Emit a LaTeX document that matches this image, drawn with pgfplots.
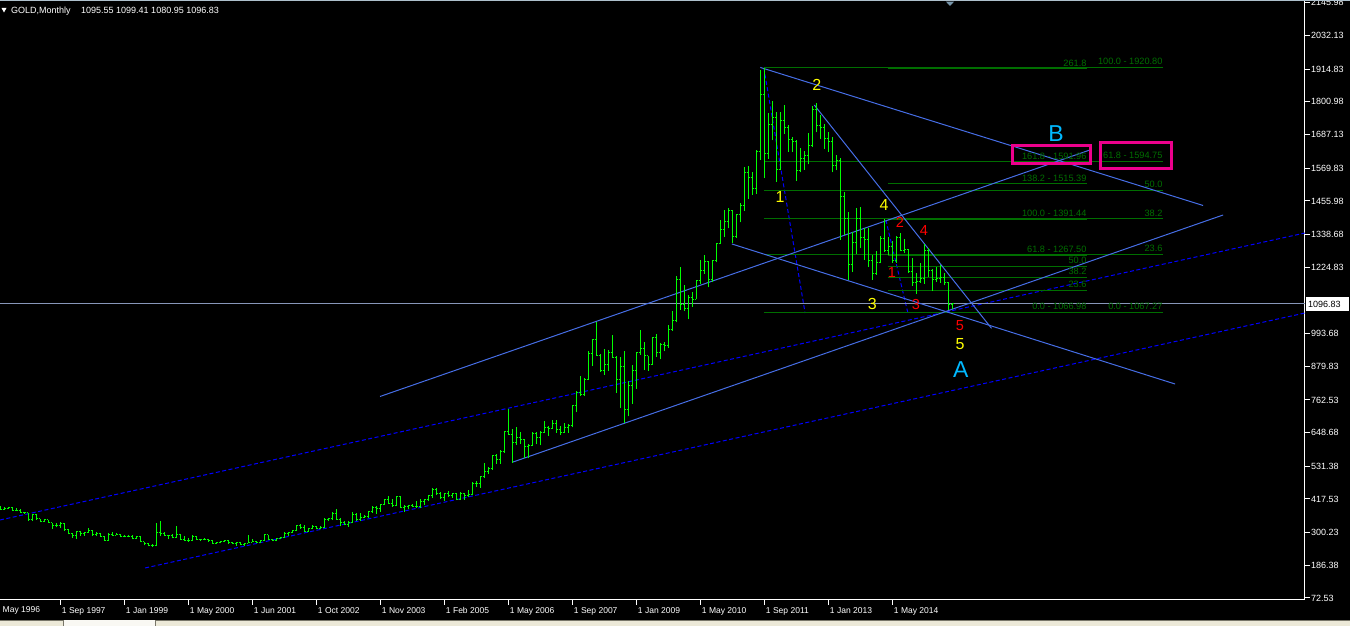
\documentclass[border=0pt]{standalone}
\usepackage{pgfplots}
\pgfplotsset{compat=1.18}
\usepackage{pgfplotstable}
\usepackage{fontspec}
\setmainfont{Liberation Sans}
\definecolor{barc}{RGB}{0,255,0}
\definecolor{chan}{RGB}{70,110,230}
\definecolor{dashc}{RGB}{0,0,255}
\definecolor{fibc}{RGB}{0,110,0}
\definecolor{bidc}{RGB}{135,150,185}
\definecolor{wavey}{RGB}{255,255,0}
\definecolor{waver}{RGB}{255,0,0}
\definecolor{abc}{RGB}{0,185,255}
\definecolor{beige}{RGB}{236,233,216}
\definecolor{tabline}{RGB}{120,118,105}
\definecolor{shiftc}{RGB}{120,150,170}
\tikzset{fibtxt/.style={anchor=base east, text=fibc, font=\fontsize{9.2}{10}\selectfont, inner sep=0pt, yshift=2.7pt}}
\pgfdeclareplotmark{otick}{\pgfpathmoveto{\pgfqpoint{-1.6pt}{0pt}}\pgfpathlineto{\pgfqpoint{0pt}{0pt}}\pgfusepathqstroke}
\pgfdeclareplotmark{ctick}{\pgfpathmoveto{\pgfqpoint{0pt}{0pt}}\pgfpathlineto{\pgfqpoint{1.6pt}{0pt}}\pgfusepathqstroke}
\pgfplotstableread{
i o h l c
0 391 395 388 391
1 391 393 380 382
2 382 390 380 385
3 385 391 384 387
4 387 388 377 379
5 379 385 377 379
6 379 384 369 371
7 371 373 365 369
8 369 369 341 345
9 345 365 341 364
10 364 366 345 348
11 348 348 337 340
12 340 348 338 345
13 345 346 334 334
14 334 335 314 326
15 326 333 319 325
16 325 337 317 332
17 332 335 306 311
18 311 313 294 296
19 296 298 283 290
20 290 306 278 304
21 304 305 289 297
22 297 303 289 301
23 301 315 300 308
24 308 309 290 293
25 293 301 289 296
26 296 298 286 288
27 288 290 273 273
28 273 298 272 293
29 293 301 289 292
30 292 298 291 294
31 294 296 284 288
32 288 292 284 287
33 287 293 284 287
34 287 291 277 279
35 279 289 278 286
36 286 289 267 268
37 268 269 256 261
38 261 263 252 255
39 255 259 251 254
40 254 334 252 300
41 300 340 287 296
42 296 301 287 291
43 291 292 278 290
44 290 294 280 283
45 283 322 282 293
46 293 296 275 276
47 276 288 272 274
48 274 280 269 272
49 272 293 270 288
50 288 289 275 276
51 276 279 271 277
52 277 280 273 275
53 275 279 268 273
54 273 275 263 264
55 264 268 262 266
56 266 272 263 270
57 270 276 267 273
58 273 273 262 265
59 265 268 260 264
60 264 268 255 267
61 267 268 256 258
62 258 265 255 264
63 264 293 263 267
64 267 279 266 270
65 270 272 264 266
66 266 276 264 273
67 273 294 271 293
68 293 293 274 278
69 278 279 272 274
70 274 281 271 279
71 279 284 277 282
72 282 304 281 296
73 296 304 289 302
74 302 311 299 308
75 308 328 307 326
76 326 330 314 318
77 318 327 302 304
78 304 316 302 313
79 313 326 312 323
80 323 324 312 316
81 316 322 313 319
82 319 350 318 347
83 347 352 340 350
84 350 372 344 368
85 368 382 345 347
86 347 352 322 334
87 334 340 326 330
88 330 341 320 336
89 336 372 335 364
90 364 368 341 346
91 346 369 341 354
92 354 362 350 358
93 358 377 350 375
94 375 392 370 388
95 388 393 365 384
96 384 400 373 398
97 398 417 397 416
98 416 427 400 401
99 401 419 391 396
100 396 428 393 426
101 426 428 386 388
102 388 396 372 393
103 393 398 381 395
104 395 400 388 392
105 392 410 387 391
106 391 416 387 408
107 408 418 397 415
108 415 430 410 429
109 429 456 422 452
110 452 457 431 438
111 438 441 416 422
112 422 438 410 435
113 435 446 424 428
114 428 439 422 435
115 435 438 414 417
116 417 441 414 437
117 437 439 415 429
118 429 448 425 433
119 433 477 430 473
120 473 481 460 470
121 470 497 457 495
122 495 542 490 513
123 513 530 505 525
124 525 572 520 569
125 569 575 540 556
126 556 588 540 582
127 582 655 579 654
128 654 731 642 643
129 643 660 543 613
130 613 668 606 632
131 632 652 610 623
132 623 627 560 599
133 599 608 560 604
134 604 651 602 646
135 646 650 608 632
136 632 656 604 650
137 650 690 648 665
138 665 672 637 663
139 663 692 662 680
140 680 691 649 659
141 659 673 640 650
142 650 681 648 665
143 665 677 648 672
144 672 745 667 743
145 743 794 720 789
146 789 846 776 783
147 783 840 777 834
148 834 934 833 923
149 923 975 880 972
150 972 1033 915 917
151 917 924 860 864
152 864 939 851 886
153 886 937 863 929
154 929 988 911 912
155 912 915 786 833
156 833 912 735 880
157 880 932 681 730
158 730 828 705 814
159 814 885 750 865
160 865 928 802 928
161 928 1006 920 942
162 942 963 866 917
163 917 917 865 887
164 887 982 884 979
165 979 992 913 927
166 927 961 904 955
167 955 966 932 953
168 953 1025 945 1008
169 1008 1072 1003 1040
170 1040 1196 1033 1182
171 1182 1227 1076 1096
172 1096 1162 1074 1081
173 1081 1127 1044 1118
174 1118 1137 1088 1113
175 1113 1181 1113 1180
176 1180 1249 1165 1213
177 1213 1266 1202 1244
178 1244 1246 1155 1181
179 1181 1250 1175 1248
180 1248 1308 1242 1307
181 1307 1388 1306 1357
182 1357 1425 1330 1384
183 1384 1431 1360 1421
184 1421 1424 1309 1332
185 1332 1411 1326 1409
186 1409 1448 1381 1439
187 1439 1575 1421 1556
188 1556 1577 1462 1536
189 1536 1556 1478 1500
190 1500 1632 1480 1628
191 1628 1911 1600 1826
192 1826 1920 1535 1620
193 1620 1763 1602 1722
194 1722 1803 1667 1746
195 1746 1764 1523 1565
196 1565 1764 1563 1737
197 1737 1791 1689 1710
198 1710 1720 1627 1669
199 1669 1677 1627 1664
200 1664 1668 1527 1561
201 1561 1640 1555 1604
202 1604 1631 1565 1614
203 1614 1693 1583 1648
204 1648 1788 1645 1773
205 1773 1796 1695 1719
206 1719 1755 1672 1711
207 1711 1723 1636 1675
208 1675 1696 1626 1663
209 1663 1679 1555 1578
210 1578 1617 1562 1597
211 1597 1605 1321 1472
212 1472 1488 1338 1393
213 1393 1417 1180 1234
214 1234 1346 1208 1312
215 1312 1433 1271 1396
216 1396 1434 1292 1327
217 1327 1361 1251 1323
218 1323 1362 1227 1250
219 1250 1268 1182 1202
220 1202 1280 1199 1240
221 1240 1332 1238 1326
222 1326 1392 1277 1284
223 1284 1331 1268 1296
224 1296 1315 1240 1250
225 1250 1332 1240 1327
226 1327 1345 1280 1282
227 1282 1323 1273 1287
228 1287 1288 1206 1210
229 1210 1256 1160 1171
230 1171 1206 1131 1175
231 1175 1239 1170 1184
232 1184 1307 1167 1283
233 1283 1293 1191 1213
234 1213 1220 1142 1183
235 1183 1224 1175 1184
236 1184 1232 1170 1190
237 1190 1205 1162 1172
238 1172 1175 1077 1095
239 1095.55 1099.41 1080.95 1096.83
}\gold
\newcommand{\fibline}[3]{\addplot[fibc, line width=0.9pt, forget plot] coordinates {(#1,#3) (#2,#3)};}
\newcommand{\fiblab}[3]{\node[fibtxt] at (axis cs:#1,#2) {#3};}
\begin{document}
\begin{tikzpicture}[x=1pt,y=1pt]
\useasboundingbox (0,0) rectangle (1350,626);
\fill[black] (0,0) rectangle (1350,626);
\begin{axis}[
  at={(0pt,26pt)}, anchor=south west,
  width=1305pt, height=600pt, scale only axis,
  xmin=0.925, xmax=327.175, ymin=65.56, ymax=2155.96,
  axis x line*=bottom, axis y line*=right,
  axis line style={draw=white, line width=1pt, -},
  tick align=outside, major tick length=5pt,
  tick style={draw=white, line width=1pt},
  xtick={16,32,48,64,80,96,112,128,144,160,176,192,208,224},
  xticklabels={1 Sep 1997,1 Jan 1999,1 May 2000,1 Jun 2001,1 Oct 2002,1 Nov 2003,1 Feb 2005,1 May 2006,1 Sep 2007,1 Jan 2009,1 May 2010,1 Sep 2011,1 Jan 2013,1 May 2014},
  xticklabel style={anchor=base west, text=white, font=\fontsize{8.5}{10}\selectfont, inner sep=0pt, xshift=1.5pt, yshift=-8.3pt},
  ytick={72.53,186.38,300.23,417.53,531.38,648.68,762.53,879.83,993.68,1224.83,1338.68,1455.98,1569.83,1687.13,1800.98,1914.83,2032.13,2145.98},
  yticklabels={72.53,186.38,300.23,417.53,531.38,648.68,762.53,879.83,993.68,1224.83,1338.68,1455.98,1569.83,1687.13,1800.98,1914.83,2032.13,2145.98},
  yticklabel style={anchor=west, text=white, font=\fontsize{9}{10}\selectfont, inner sep=0pt, xshift=1pt},
  clip=true,
]
% dashed long channel
\addplot[dashc, line width=1pt, dash pattern=on 4pt off 2.5pt, forget plot] coordinates {(0.925,344.3) (327.175,1344.2)};
\addplot[dashc, line width=1pt, dash pattern=on 4pt off 2.5pt, forget plot] coordinates {(37.2,177.1) (327.175,1065.5)};
% wave dashed
\addplot[dashc, line width=1pt, dash pattern=on 4pt off 2.5pt, forget plot] coordinates {(191.9,1919) (202.2,1065.5)};
\addplot[dashc, line width=1pt, dash pattern=on 4pt off 2.5pt, forget plot] coordinates {(222.4,1389.5) (227.9,1065.5)};
% fibonacci 1
\fibline{191.9}{291.6}{1920.80}
\fibline{191.9}{291.6}{1594.75}
\fibline{191.9}{291.6}{1494.04}
\fibline{191.9}{291.6}{1393.32}
\fibline{191.9}{291.6}{1268.70}
\fibline{191.9}{291.6}{1067.27}
% fibonacci 2
\fibline{222.9}{272.6}{1916.40}
\fibline{222.9}{272.6}{1591.96}
\fibline{222.9}{272.6}{1515.39}
\fibline{222.9}{272.6}{1391.44}
\fibline{222.9}{272.6}{1267.50}
\fibline{222.9}{272.6}{1229.21}
\fibline{222.9}{272.6}{1190.92}
\fibline{222.9}{272.6}{1143.55}
\fibline{222.9}{272.6}{1066.98}
% bid line
\addplot[bidc, line width=1pt, forget plot] coordinates {(0.925,1096.83) (327.175,1096.83)};
% channel / trend lines
\addplot[chan, line width=1pt, forget plot] coordinates {(95.93,774.6) (273.4,1633.4)};
\addplot[chan, line width=1pt, forget plot] coordinates {(129.2,546.4) (306.7,1406.9)};
\addplot[chan, line width=1pt, forget plot] coordinates {(191,1921) (301.7,1440)};
\addplot[chan, line width=1pt, forget plot] coordinates {(183.9,1305.9) (294.7,818.1)};
\addplot[chan, line width=1pt, forget plot] coordinates {(204.5,1790) (248.8,1012.1)};
% OHLC bars: high-low line
\addplot[draw=none, mark=none, forget plot,
  error bars/.cd, y dir=plus, y explicit, error mark=none,
  error bar style={draw=barc, line width=1pt, solid}]
  table[x=i, y=l, y error plus expr=\thisrow{h}-\thisrow{l}] {\gold};
% open and close ticks
\addplot[draw=none, mark=otick, mark options={line width=1pt, solid, draw=barc}, forget plot] table[x=i, y=o] {\gold};
\addplot[draw=none, mark=ctick, mark options={line width=1pt, solid, draw=barc}, forget plot] table[x=i, y=c] {\gold};
% fib labels
\fiblab{291.6}{1920.80}{100.0 - 1920.80}
\fiblab{291.6}{1594.75}{61.8 - 1594.75}
\fiblab{291.6}{1494.04}{50.0}
\fiblab{291.6}{1393.32}{38.2}
\fiblab{291.6}{1268.70}{23.6}
\fiblab{291.6}{1067.27}{0.0 - 1067.27}
\fiblab{272.6}{1916.40}{261.8}
\fiblab{272.6}{1591.96}{161.8 - 1591.96}
\fiblab{272.6}{1515.39}{138.2 - 1515.39}
\fiblab{272.6}{1391.44}{100.0 - 1391.44}
\fiblab{272.6}{1267.50}{61.8 - 1267.50}
\fiblab{272.6}{1229.21}{50.0}
\fiblab{272.6}{1190.92}{38.2}
\fiblab{272.6}{1143.55}{23.6}
\fiblab{272.6}{1066.98}{0.0 - 1066.98}
\end{axis}
% magenta boxes
\draw[magenta, line width=3pt] (1012.2,480.5) rectangle (1090.2,462.5);
\draw[magenta, line width=3pt] (1100.8,483.8) rectangle (1171.2,457.5);
% wave labels
\begin{scope}[every node/.style={inner sep=0pt}]
\node[text=wavey, font=\fontsize{16}{16}\selectfont] at (816.7,541) {2};
\node[text=wavey, font=\fontsize{16}{16}\selectfont] at (780,428.7) {1};
\node[text=wavey, font=\fontsize{16}{16}\selectfont] at (884,421) {4};
\node[text=wavey, font=\fontsize{16}{16}\selectfont] at (872.3,321.7) {3};
\node[text=wavey, font=\fontsize{16}{16}\selectfont] at (960,281.7) {5};
\node[text=waver, font=\fontsize{14.5}{15}\selectfont] at (900,403.3) {2};
\node[text=waver, font=\fontsize{14.5}{15}\selectfont] at (924,395) {4};
\node[text=waver, font=\fontsize{14.5}{15}\selectfont] at (892,353.7) {1};
\node[text=waver, font=\fontsize{14.5}{15}\selectfont] at (916,321.7) {3};
\node[text=waver, font=\fontsize{14.5}{15}\selectfont] at (960,300) {5};
\node[text=abc, font=\fontsize{23}{23}\selectfont] at (960.7,256) {A};
\node[text=abc, font=\fontsize{23}{23}\selectfont] at (1056,492.7) {B};
% title
\node[anchor=base west, text=white, font=\fontsize{9}{10}\selectfont] at (11,612.7) {GOLD,Monthly};
\node[anchor=base west, text=white, font=\fontsize{9}{10}\selectfont] at (81,612.7) {1095.55 1099.41 1080.95 1096.83};
\node[anchor=base west, text=white, font=\fontsize{8.5}{10}\selectfont] at (2.5,13.3) {May 1996};
\end{scope}
\fill[white] (1.5,618) -- (6.5,618) -- (4,613.5) -- cycle;
\fill[shiftc] (946,624.3) -- (954,624.3) -- (950,620) -- cycle;
\fill[shiftc!60!white] (0,624.8) rectangle (1350,626);
% price box
\fill[white] (1306,328.5) rectangle (1348.5,315);
\node[anchor=west, inner sep=0pt, text=black, font=\fontsize{9}{10}\selectfont] at (1308,321.8) {1096.83};
% bottom tab strip
\fill[beige] (0,0) rectangle (1350,5.5);
\fill[white!70!beige] (63.5,0) rectangle (155,5.5);
\draw[tabline, line width=1pt] (0,5.5) -- (63.5,5.5) -- (63.5,0);
\draw[tabline, line width=1pt] (155,0) -- (155,5.5) -- (1350,5.5);
\end{tikzpicture}
\end{document}
